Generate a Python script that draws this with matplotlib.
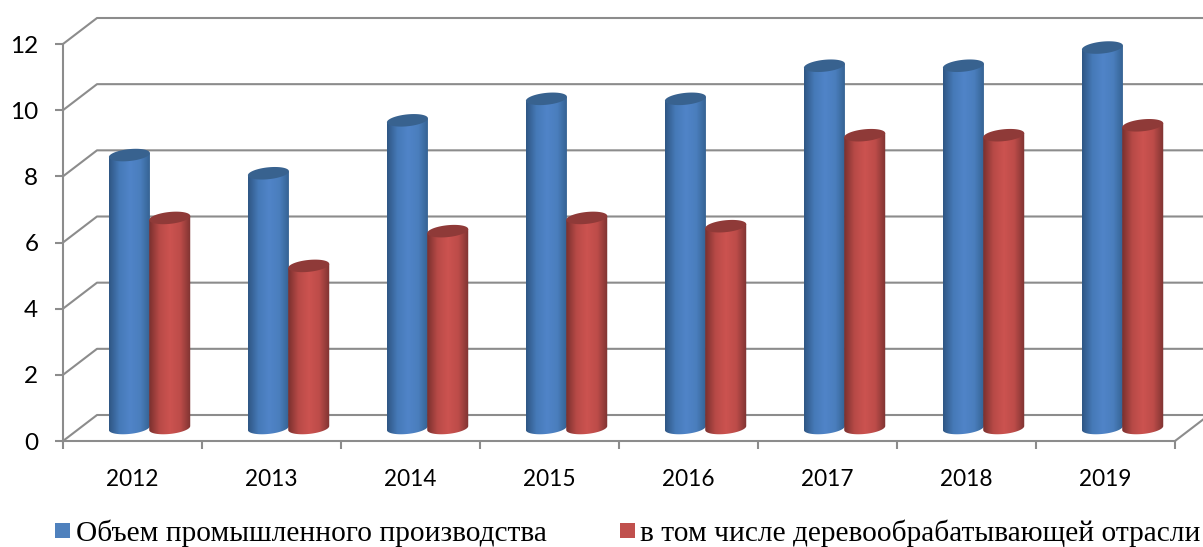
import matplotlib
matplotlib.use("Agg")
import matplotlib.pyplot as plt
import numpy as np
from matplotlib.colors import LinearSegmentedColormap
from matplotlib.patches import Polygon, Rectangle

years = ["2012", "2013", "2014", "2015", "2016", "2017", "2018", "2019"]
obem = [8.25, 7.7, 9.3, 9.95, 9.95, 10.95, 10.95, 11.5]
derevo = [6.35, 4.9, 5.95, 6.35, 6.1, 8.85, 8.85, 9.15]
y_ticks = [0, 2, 4, 6, 8, 10, 12]

label_blue = "Объем промышленного производства"
label_red = "в том числе деревообрабатывающей отрасли"

W, H = 1203, 547
GRAY = "#8c8c8c"
# 3D depth of the chart box, in data units
DEPTH_X = 34 / 139
DEPTH_Y = 26 / 33.08
BAR_W = 0.295
ELL_B = 0.18
ELL_TILT = 0.06


def draw_cylinder(ax, xc, value, base, colors, cap_color):
    top = base + value  # bars stand in the middle of the box depth
    t = np.linspace(0, 2 * np.pi, 120)
    a = BAR_W / 2
    ex = a * np.cos(t)
    ey = ELL_B * np.sin(t) + ELL_TILT * np.cos(t)

    # body: lower half of the base ellipse plus the top edge
    low = t[(t >= np.pi) & (t <= 2 * np.pi)]
    bx = xc + a * np.cos(low)
    by = base + ELL_B * np.sin(low) + ELL_TILT * np.cos(low)
    outline = np.column_stack([
        np.r_[xc - a, bx, xc + a],
        np.r_[top - ELL_TILT, by, top + ELL_TILT],
    ])
    body = Polygon(outline, closed=True, facecolor="none", edgecolor="none", zorder=3)
    ax.add_patch(body)

    cmap = LinearSegmentedColormap.from_list("cyl", colors)
    grad = np.linspace(0, 1, 128).reshape(1, -1)
    im = ax.imshow(grad, cmap=cmap, extent=(xc - a, xc + a, base - 0.3, top + 0.1),
                   aspect="auto", zorder=3, interpolation="bilinear")
    im.set_clip_path(body)

    # the tallest cap pokes above the axes box
    cap = Polygon(np.column_stack([xc + ex, top + ey]), closed=True,
                  facecolor=cap_color, edgecolor="none", zorder=3, clip_on=False)
    ax.add_patch(cap)


def main():
    fig = plt.figure(figsize=(W / 100, H / 100), dpi=100, facecolor="white")
    ax = fig.add_axes([63 / W, (H - 441) / H, 1112 / W, 397 / H])

    # back wall and side wall lines
    for v in y_ticks:
        ax.plot([0, DEPTH_X, 8 + DEPTH_X], [v, v + DEPTH_Y, v + DEPTH_Y],
                color=GRAY, lw=1.5, clip_on=False, zorder=1)
    ax.plot([8, 8 + DEPTH_X], [0, DEPTH_Y], color=GRAY, lw=1.5, clip_on=False, zorder=1)

    blue = ["#2f5684", "#467ab8", "#5084c8", "#4a7ebd", "#33608f"]
    red = ["#7a302e", "#b84a47", "#cc5350", "#bd4c49", "#7d3331"]

    for i in range(len(years)):
        xc = i + 0.5 + DEPTH_X / 2 + 0.003
        base = DEPTH_Y / 2
        draw_cylinder(ax, xc - BAR_W / 2, obem[i], base, blue, "#38628f")
        draw_cylinder(ax, xc + BAR_W / 2 - 0.005, derevo[i], base, red, "#8f3a38")

    ax.set_xlim(0, 8)
    ax.set_ylim(0, 12)
    ax.patch.set_alpha(0)

    for s in ("top", "right"):
        ax.spines[s].set_visible(False)
    for s in ("left", "bottom"):
        ax.spines[s].set_color(GRAY)
        ax.spines[s].set_linewidth(1.5)
        ax.spines[s].set_zorder(2)

    ax.set_yticks(y_ticks)
    ax.tick_params(axis="y", length=5.8, width=1.5, color=GRAY, pad=12,
                   labelsize=17.5, labelcolor="black")
    ax.set_xticks(range(9))
    ax.set_xticklabels([])
    ax.set_xticks(np.arange(8) + 0.5, years, minor=True)
    ax.tick_params(axis="x", which="major", length=5.8, width=1.5, color=GRAY)
    ax.tick_params(axis="x", which="minor", length=0, pad=20,
                   labelsize=16.3, labelcolor="black")
    for lab in ax.get_yticklabels() + ax.get_xticklabels(minor=True):
        lab.set_fontfamily("Lato")

    # legend
    fig.add_artist(Rectangle((55 / W, (H - 538) / H), 15 / W, 15 / H,
                             transform=fig.transFigure, facecolor="#4f81bd", edgecolor="none"))
    fig.add_artist(Rectangle((620 / W, (H - 538) / H), 15 / W, 15 / H,
                             transform=fig.transFigure, facecolor="#c0504d", edgecolor="none"))
    fig.text(76 / W, (H - 541) / H, label_blue, family="Liberation Serif",
             fontsize=21.2, color="black", va="baseline")
    fig.text(640 / W, (H - 541) / H, label_red, family="Liberation Serif",
             fontsize=21.2, color="black", va="baseline")

    fig.savefig("out.png", dpi=100)


if __name__ == "__main__":
    main()
